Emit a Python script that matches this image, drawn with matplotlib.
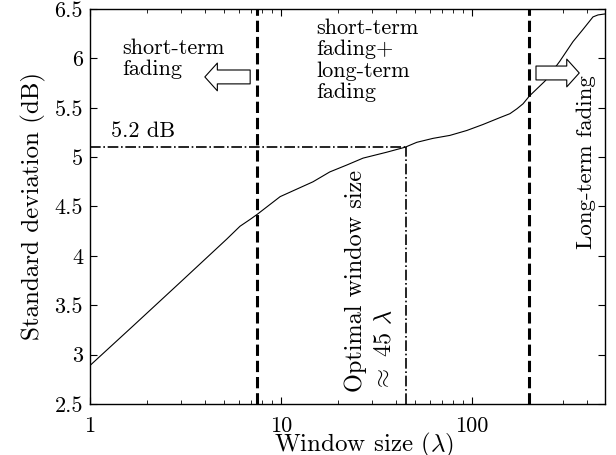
"""Standard deviation vs. window size, with the short/long-term fading regions."""

import numpy as np
import matplotlib
matplotlib.use("Agg")
import matplotlib.pyplot as plt

plt.rcParams['font.family'] = 'serif'
plt.rcParams['font.serif'] = ['cmr10', 'DejaVu Serif']
plt.rcParams['mathtext.fontset'] = 'cm'
plt.rcParams['axes.formatter.use_mathtext'] = True

# curve
window = [1, 1.68, 2.96, 5.2, 6.1, 6.9, 7.5, 9.9, 14.7, 18.0, 22.1, 26.9,
          35.8, 44.6, 51.4, 62.5, 76.6, 94, 114, 140, 158, 172, 185, 200,
          241, 288, 338, 380, 430, 457, 497]
std_db = [2.89, 3.29, 3.73, 4.17, 4.30, 4.37, 4.42, 4.60, 4.75, 4.85, 4.92,
          4.99, 5.05, 5.10, 5.15, 5.19, 5.22, 5.27, 5.33, 5.40, 5.44, 5.49,
          5.54, 5.62, 5.77, 5.97, 6.17, 6.29, 6.42, 6.44, 6.45]

short_limit = 7.5     # dashed boundary, short-term fading
long_limit = 200      # dashed boundary, long-term fading
optimal_window = 45
optimal_std = 5.1

x_ticks = [1, 10, 100]
x_tick_labels = ['1', '10', '100']
y_ticks = [2.5, 3, 3.5, 4, 4.5, 5, 5.5, 6, 6.5]
y_tick_labels = ['2.5', '3', '3.5', '4', '4.5', '5', '5.5', '6', '6.5']

fig = plt.figure(figsize=(6.16, 4.55), dpi=100)
ax = fig.add_axes([90 / 616, 1 - 404 / 455, 515 / 616, 395 / 455])

ax.set_xscale('log')
ax.set_xlim(1, 497)
ax.set_ylim(2.5, 6.5)

ax.plot(window, std_db, color='black', lw=0.8, zorder=3)

ax.axvline(short_limit, color='black', lw=2.2, ls='--', zorder=2)
ax.axvline(long_limit, color='black', lw=2.2, ls='--', zorder=2)

ax.plot([1, optimal_window], [optimal_std, optimal_std], color='black',
        lw=1.2, ls='-.', zorder=2)
ax.plot([optimal_window, optimal_window], [2.5, optimal_std], color='black',
        lw=1.2, ls='-.', zorder=2)

ax.set_xticks(x_ticks)
ax.set_xticklabels(x_tick_labels)
ax.set_yticks(y_ticks)
ax.set_yticklabels(y_tick_labels)

ax.tick_params(which='both', direction='in', top=True, right=True,
               labelsize=16)
ax.tick_params(which='major', length=5, width=0.8)
ax.tick_params(which='minor', length=3, width=0.6)
ax.tick_params(axis='x', pad=9)
ax.tick_params(axis='y', pad=5)
for s in ax.spines.values():
    s.set_linewidth(1.0)

ax.set_xlabel(r'Window size ($\lambda$)', fontsize=18, labelpad=-4)
ax.xaxis.label.set_x(0.532)
ax.set_ylabel('Standard deviation (dB)', fontsize=18, labelpad=6)

ax.text(0.062, 0.925, 'short-term\nfading', transform=ax.transAxes,
        fontsize=16, va='top', ha='left', linespacing=1.1)
ax.text(0.440, 0.975, 'short-term\nfading+\nlong-term\nfading',
        transform=ax.transAxes, fontsize=16, va='top', ha='left',
        linespacing=1.1)
ax.text(0.04, 0.665, '5.2 dB', transform=ax.transAxes, fontsize=16,
        va='bottom', ha='left')
ax.text(0.544, 0.03, 'Optimal window size\n' + r'$\approx$ 45 $\lambda$',
        transform=ax.transAxes, fontsize=17.5, rotation=90, va='bottom',
        ha='center', multialignment='left', linespacing=1.4)
ax.text(0.963, 0.613, 'Long-term fading', transform=ax.transAxes,
        fontsize=16.5, rotation=90, va='center', ha='center')

# hollow arrows
arrow = dict(arrowstyle='simple,head_length=9,head_width=20,tail_width=10',
             fc='white', ec='black', lw=0.8, mutation_scale=1,
             shrinkA=0, shrinkB=0)
ax.annotate('', xy=(0.223, 0.828), xytext=(0.311, 0.828),
            xycoords='axes fraction', arrowprops=arrow)
ax.annotate('', xy=(0.950, 0.838), xytext=(0.866, 0.838),
            xycoords='axes fraction', arrowprops=arrow)

fig.savefig('out.png', dpi=100)
